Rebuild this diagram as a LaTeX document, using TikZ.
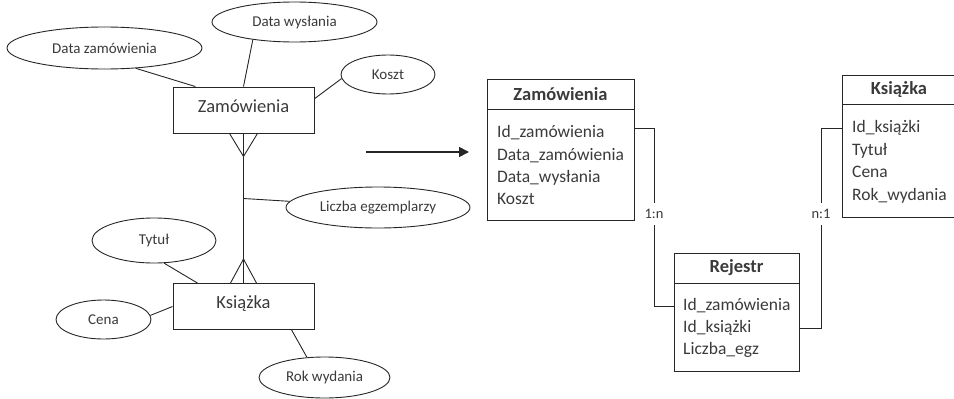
\documentclass[tikz,border=0pt]{standalone}
\usepackage{fontspec}
\setmainfont{Carlito}
\usetikzlibrary{arrows.meta}
\usetikzlibrary{positioning}
\usetikzlibrary{shapes.geometric}

\definecolor{linegray}{HTML}{262626}
\definecolor{textgray}{HTML}{3A3A3A}

\tikzset{
    attr/.style = {ellipse, draw=linegray, line width=0.9pt, text=textgray, inner sep=0pt, font=\fontsize{15}{18}\selectfont},
    entity/.style = {rectangle, draw=linegray, line width=0.9pt, text=textgray, minimum width=141, minimum height=46, text height=0.75em, text depth=0.27em, font=\fontsize{18.5}{22}\selectfont},
    tabhead/.style = {rectangle, draw=linegray, line width=0.9pt, outer sep=0pt, text=textgray, font=\bfseries\fontsize{18.5}{22}\selectfont},
    tabbody/.style = {rectangle, draw=linegray, line width=0.9pt, outer sep=0pt},
    tabrow/.style = {anchor=west, inner sep=0pt, text height=0.9em, text depth=0.06em, text=textgray, font=\fontsize{17.5}{21}\selectfont},
    card/.style = {inner xsep=2pt, inner ysep=6pt, text=textgray, font=\fontsize{14.5}{16}\selectfont},
    link/.style = {draw=linegray, line width=0.9pt},
}

\begin{document}
\begin{tikzpicture}[x=1pt, y=-1pt]
    \useasboundingbox (0,0) rectangle (954,399);
    \clip (0,0) rectangle (954,399);

    \node[entity] (zam) at (243.5,110) {Zamówienia};
    \node[entity] (ks) at (243.5,306.5) {Książka};

    \node[attr, minimum width=195, minimum height=42] (dz) at (104.5,48) {Data zamówienia};
    \node[attr, minimum width=165, minimum height=40] (dw) at (294.5,22) {Data wysłania};
    \node[attr, minimum width=94, minimum height=39] (ko) at (388,74.5) {Koszt};
    \node[attr, minimum width=184, minimum height=41] (le) at (378,207.5) {Liczba egzemplarzy};
    \node[attr, minimum width=124, minimum height=45] (ty) at (154,240.5) {Tytuł};
    \node[attr, minimum width=95, minimum height=39] (ce) at (103.5,319.5) {Cena};
    \node[attr, minimum width=131, minimum height=41] (rw) at (324.5,377.5) {Rok wydania};

    \draw[link] (dz.-33) -- (zam.154);
    \draw[link] (dw.-157) -- (zam.north);
    \draw[link] (ko.185) -- (zam.9);
    \draw[link] (zam.south) -- (ks.north);
    \draw[link] ([xshift=-14pt]zam.south) -- ([yshift=-23pt]zam.south) -- ([xshift=14pt]zam.south);
    \draw[link] ([xshift=-13pt]ks.north) -- ([yshift=24pt]ks.north) -- ([xshift=13pt]ks.north);
    \path (zam.south |- le.west) ++(0,-9) coordinate (lejoin);
    \draw[link] (lejoin) -- (le.176);
    \draw[link] (ty.-66) -- (ks.153);
    \draw[link] (ce.5) -- (ks.west);
    \draw[link] (ks.-26) -- (rw.131);

    \coordinate (arrfrom) at (366,152);
    \coordinate (arrto) at (469,152);
    \draw[link, line width=1.6pt, -{Triangle[length=10pt,width=10pt]}] (arrfrom) -- (arrto);

    \node[tabhead, minimum width=147, minimum height=30] (zh) at (560.5,94) {Zamówienia};
    \node[tabbody, minimum width=147, minimum height=111, below=0pt of zh] (zb) {};
    \node[tabrow] (z1) at (497,133) {Id\_zamówienia};
    \node[tabrow] (z2) at (497,156) {Data\_zamówienia};
    \node[tabrow] (z3) at (497,178) {Data\_wysłania};
    \node[tabrow] (z4) at (497,200) {Koszt};

    \node[tabhead, minimum width=114, minimum height=29] (kh) at (899,89.5) {Książka};
    \node[tabbody, minimum width=114, minimum height=113, below=0pt of kh] (kb) {};
    \node[tabrow] (k1) at (852,128) {Id\_książki};
    \node[tabrow] (k2) at (852,151) {Tytuł};
    \node[tabrow] (k3) at (852,173) {Cena};
    \node[tabrow] (k4) at (852,196) {Rok\_wydania};

    \node[tabhead, minimum width=125, minimum height=30] (rh) at (736.5,268) {Rejestr};
    \node[tabbody, minimum width=125, minimum height=88, below=0pt of rh] (rb) {};
    \node[tabrow] (r1) at (683,306) {Id\_zamówienia};
    \node[tabrow] (r2) at (683,328) {Id\_książki};
    \node[tabrow] (r3) at (683,350) {Liczba\_egz};

    \node[card] (c1) at (654,214) {1:n};
    \node[card] (c2) at (821,214) {n:1};
    \draw[link] (zb.east |- z1) ++(0,-5) -| (c1) |- (rb.west |- r1);
    \draw[link] (kb.west |- k1) -| (c2) |- (rb.east |- r2);
\end{tikzpicture}
\end{document}
